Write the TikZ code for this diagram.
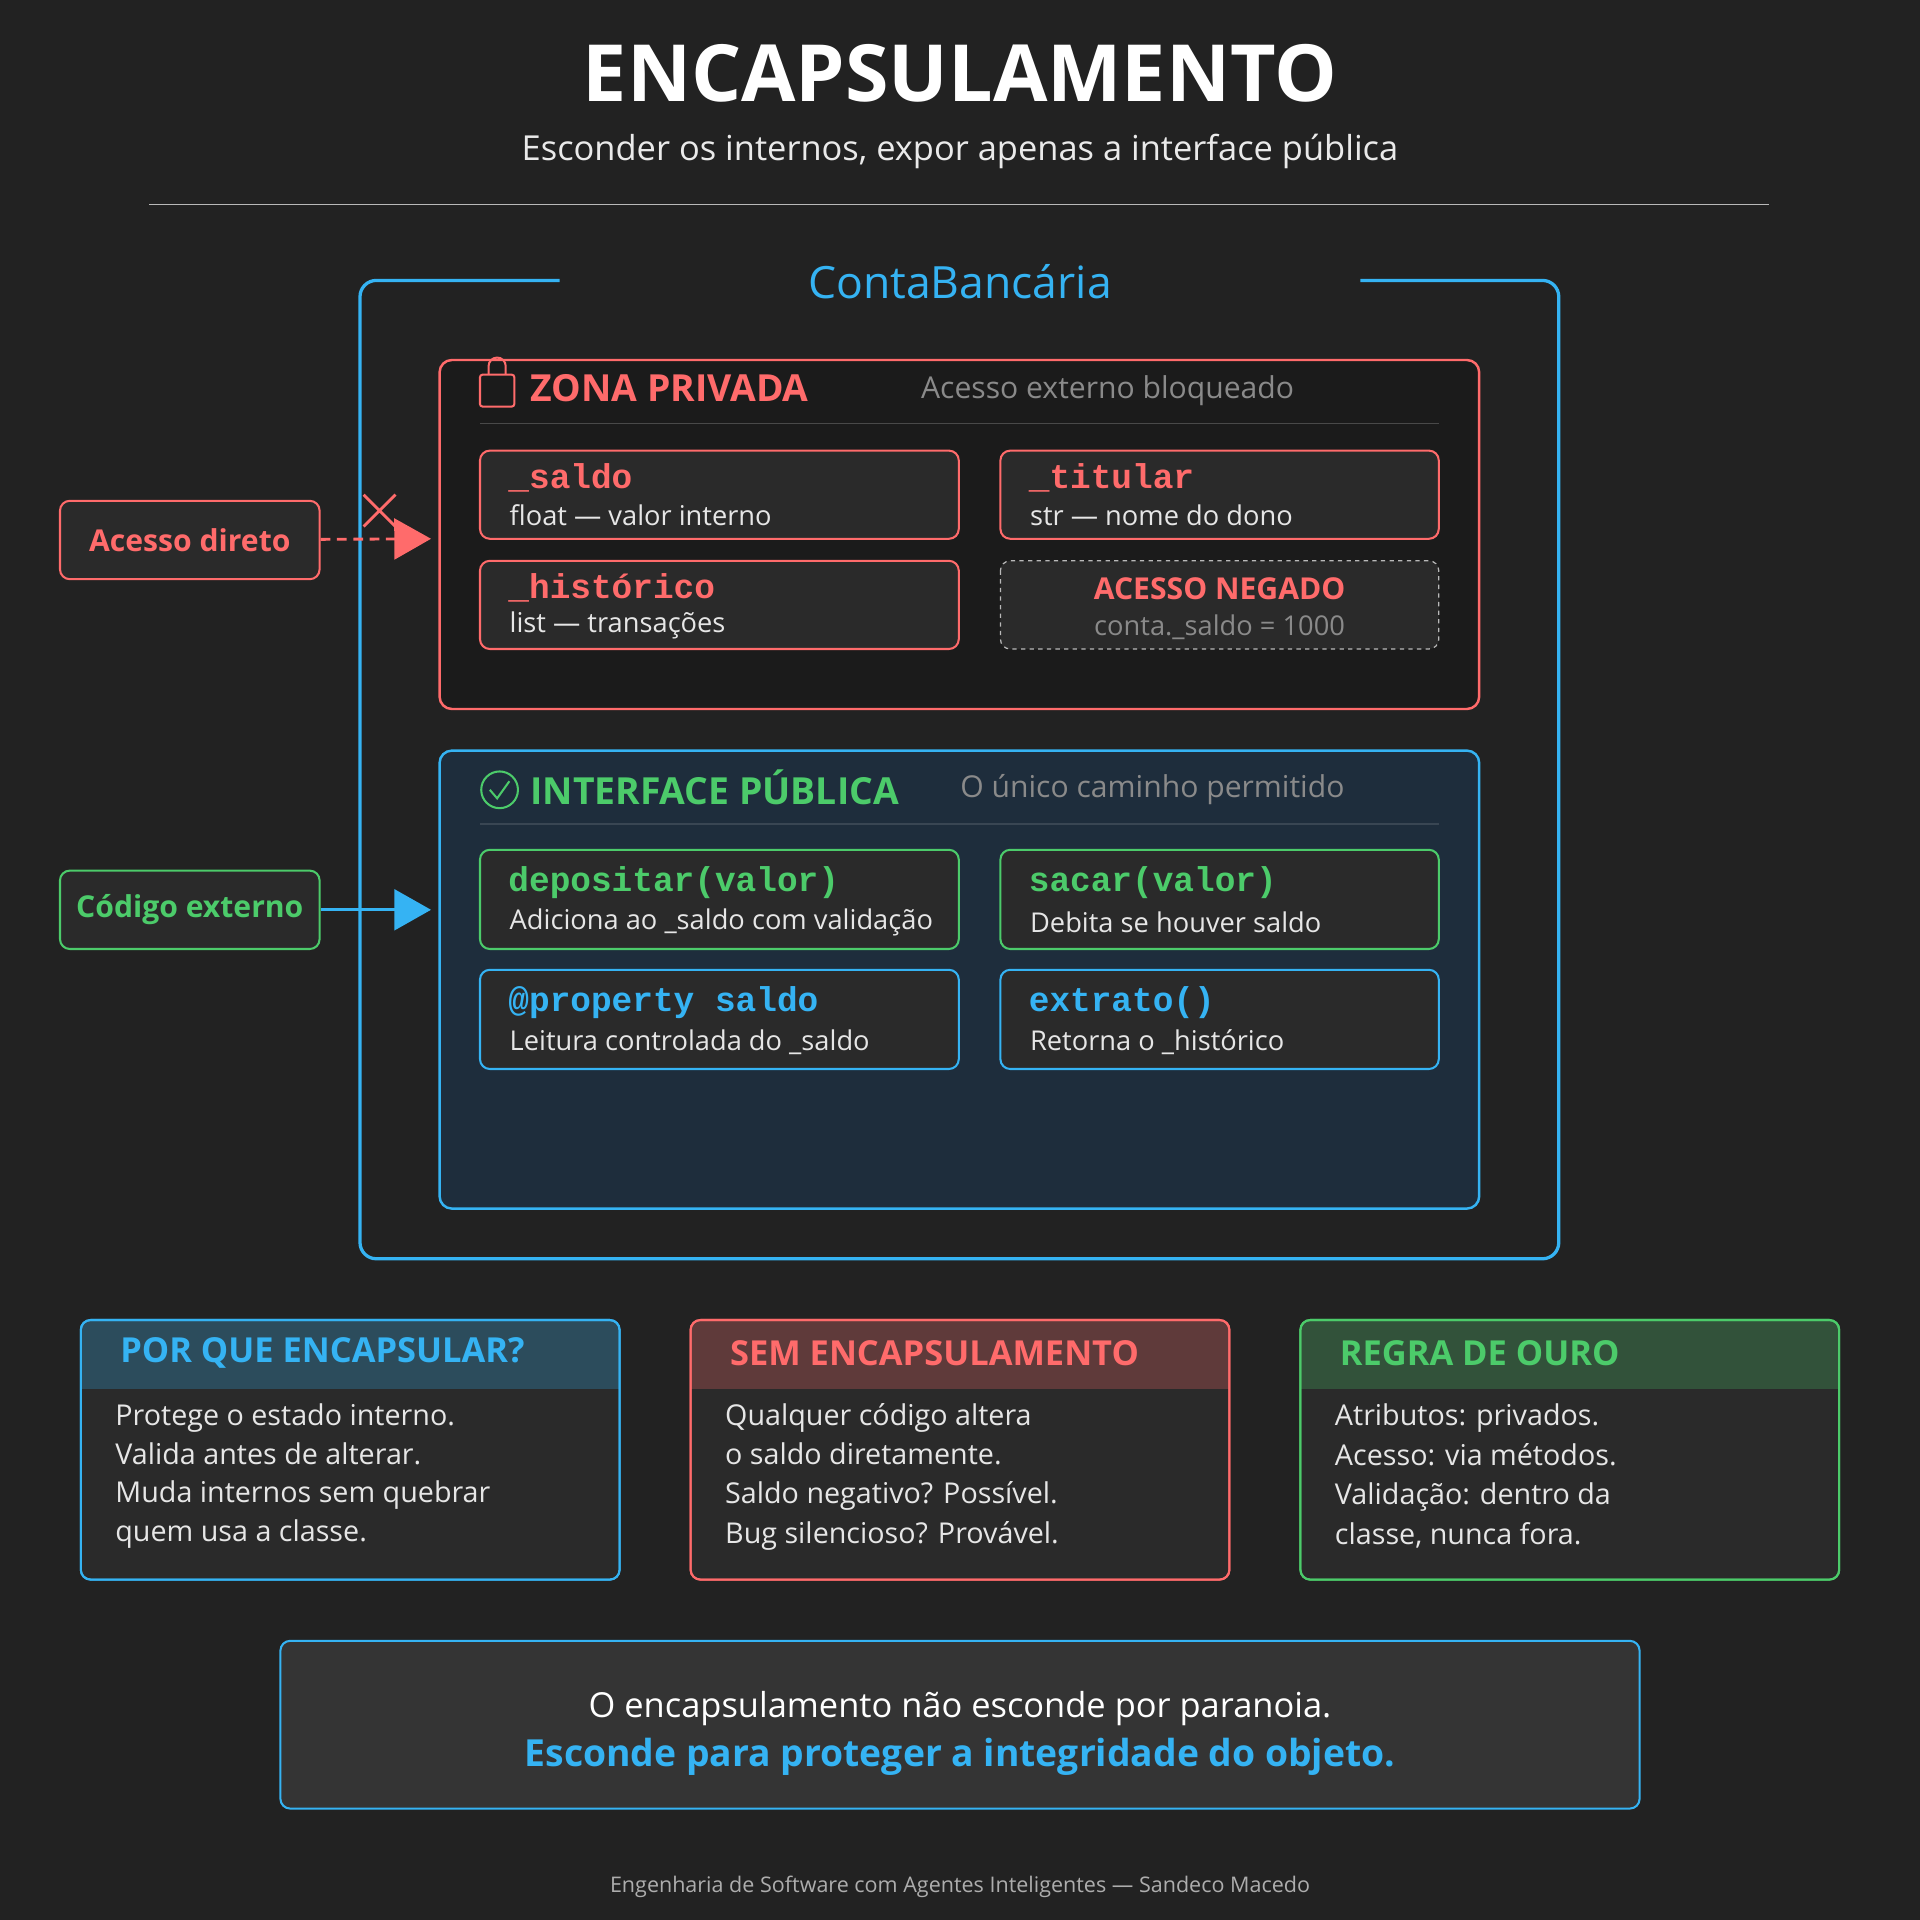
\documentclass[tikz,border=0pt]{standalone}
\usepackage{fontspec}
\setmainfont{Open Sans}
\newfontfamily\monofont{Liberation Mono}
\usetikzlibrary{arrows.meta}
\definecolor{bgcol}{HTML}{222222}
\definecolor{bluecol}{HTML}{35B3F3}
\definecolor{redcol}{HTML}{FF6B6B}
\definecolor{greencol}{HTML}{4CCB6A}
\definecolor{cardcol}{HTML}{2A2A2A}
\definecolor{privcol}{HTML}{1B1B1B}
\definecolor{pubcol}{HTML}{1E2D3C}
\definecolor{txtcol}{HTML}{E6E6E6}
\definecolor{dimcol}{HTML}{8A8A8A}
\newcommand\fsz[1]{\fontsize{#1pt}{#1pt}\selectfont}
\tikzset{
  card/.style={rounded corners=2.4mm, line width=0.5mm},
  lbl/.style={anchor=west, inner sep=0pt, text=txtcol},
  mono/.style={anchor=west, inner sep=0pt, font=\monofont\bfseries\fsz{24}},
}
\begin{document}
\begin{tikzpicture}[x=0.3mm, y=-0.3mm]
    \fill[bgcol] (0,0) rectangle (1568,1568);

    % title
    \node (title) at (784,60) {\color{white}\bfseries\fsz{55}ENCAPSULAMENTO};
    \node (subtitle) at (784,124) {\color{txtcol!85}\fsz{24}Esconder os internos, expor apenas a interface pública};
    \draw[dimcol!60, line width=0.3mm] (122,167) -- (1445,167);

    % class box
    \draw[bluecol, line width=0.8mm, rounded corners=4mm]
        (457,229) -- (294,229) -- (294,1028) -- (1273,1028) -- (1273,229) -- (1111,229);
    \node (cls) at (784,230) {\color{bluecol}\fsz{31}ContaBancária};

    % private zone
    \draw[redcol, fill=privcol, line width=0.6mm, rounded corners=3mm] (359,294) rectangle (1208,579);
    \draw[redcol, line width=0.5mm, rounded corners=0.6mm] (392,306) rectangle (420,332);
    \draw[redcol, line width=0.5mm] (399,306) -- (399,299) arc (180:360:7) -- (413,306);
    \node[lbl] (privhead) at (433,317) {\color{redcol}\bfseries\fsz{26}ZONA PRIVADA};
    \node[lbl] (privsub) at (752,319) {\color{dimcol}\fsz{21}Acesso externo bloqueado};
    \draw[white!20!privcol, line width=0.3mm] (392,346) -- (1175,346);
    \foreach \xa/\ya/\xb/\yb in {392/368/783/440, 817/368/1175/440, 392/458/783/530}
        \draw[card, redcol, fill=cardcol] (\xa,\ya) rectangle (\xb,\yb);
    \node[mono, text=redcol] (saldo) at (415,390) {\_saldo};
    \node[lbl, font=\fsz{19}] (saldod) at (416,421) {float — valor interno};
    \node[mono, text=redcol] (titular) at (840,390) {\_titular};
    \node[lbl, font=\fsz{19}] (titulard) at (841,421) {str — nome do dono};
    \node[mono, text=redcol] (hist) at (415,480) {\_histórico};
    \node[lbl, font=\fsz{19}] (histd) at (416,511) {list — transações};
    \draw[card, dashed, dimcol!60, fill=cardcol, line width=0.3mm] (817,458) rectangle (1175,530);
    \node (negado) at (996,481) {\color{redcol}\bfseries\fsz{21}ACESSO NEGADO};
    \node (negadod) at (996,512) {\color{dimcol}\fsz{19}conta.\_saldo = 1000};

    % public zone
    \draw[bluecol, fill=pubcol, line width=0.6mm, rounded corners=3mm] (359,613) rectangle (1208,987);
    \draw[greencol, line width=0.5mm] (408,645) circle (15);
    \draw[greencol, line width=0.5mm] (400,645) -- (406,652) -- (416,638);
    \node[lbl] (pubhead) at (433,643) {\color{greencol}\bfseries\fsz{26}INTERFACE PÚBLICA};
    \node[lbl] (pubsub) at (784,645) {\color{dimcol}\fsz{21}O único caminho permitido};
    \draw[white!12!pubcol, line width=0.3mm] (392,673) -- (1175,673);
    \foreach \xa/\ya/\xb/\yb/\c in {392/694/783/775/greencol, 817/694/1175/775/greencol,
                                   392/792/783/873/bluecol, 817/792/1175/873/bluecol}
        \draw[card, \c, fill=cardcol] (\xa,\ya) rectangle (\xb,\yb);
    \node[mono, text=greencol] (dep) at (415,721) {depositar(valor)};
    \node[lbl, font=\fsz{19}] (depd) at (416,753) {Adiciona ao \_saldo com validação};
    \node[mono, text=greencol] (sac) at (840,721) {sacar(valor)};
    \node[lbl, font=\fsz{19}] (sacd) at (841,753) {Debita se houver saldo};
    \node[mono, text=bluecol] (prop) at (415,819) {@property saldo};
    \node[lbl, font=\fsz{19}] (propd) at (416,851) {Leitura controlada do \_saldo};
    \node[mono, text=bluecol] (ext) at (840,819) {extrato()};
    \node[lbl, font=\fsz{19}] (extd) at (841,851) {Retorna o \_histórico};

    % outside callers
    \node[card, draw=redcol, fill=cardcol, minimum width=63.6mm, minimum height=19.2mm]
        (direto) at (155,441) {\color{redcol}\bfseries\fsz{21}Acesso direto};
    \node[card, draw=greencol, fill=cardcol, minimum width=63.6mm, minimum height=19.2mm]
        (externo) at (155,743) {\color{greencol}\bfseries\fsz{21}Código externo};
    \coordinate (privin) at (352,440);
    \coordinate (pubin) at (352,743);
    \draw[redcol, line width=0.7mm, dash pattern=on 2.4mm off 1.6mm, -{Triangle[length=9mm, width=10mm]}] (direto) -- (privin);
    \draw[redcol, line width=0.7mm] (297,404) -- (323,430) (323,404) -- (297,430);
    \draw[bluecol, line width=0.7mm, -{Triangle[length=9mm, width=10mm]}] (externo) -- (pubin);

    % bottom cards
    \foreach \x/\c/\t [count=\i] in {66/bluecol/POR QUE ENCAPSULAR?, 564/redcol/SEM ENCAPSULAMENTO, 1062/greencol/REGRA DE OURO} {
        \draw[card, \c, fill=cardcol] (\x,1078) rectangle (\x+440,1290);
        \begin{scope}
            \clip[rounded corners=2.4mm] (\x,1078) rectangle (\x+440,1290);
            \fill[\c, opacity=0.25] (\x,1078) rectangle (\x+440,1134);
        \end{scope}
        \draw[card, \c] (\x,1078) rectangle (\x+440,1290);
        \node[lbl, text=\c, font=\bfseries\fsz{24}] (head\i) at (\x+32,1105) {\t};
    }
    \node[lbl, align=left, font=\fsz{20}, anchor=north west] (why) at (94,1146)
        {Protege o estado interno.\\[7pt]Valida antes de alterar.\\[7pt]Muda internos sem quebrar\\[7pt]quem usa a classe.};
    \node[lbl, align=left, font=\fsz{20}, anchor=north west] (sem) at (592,1146)
        {Qualquer código altera\\[7pt]o saldo diretamente.\\[7pt]Saldo negativo? Possível.\\[7pt]Bug silencioso? Provável.};
    \node[lbl, align=left, font=\fsz{20}, anchor=north west] (regra) at (1090,1146)
        {Atributos: privados.\\[7pt]Acesso: via métodos.\\[7pt]Validação: dentro da\\[7pt]classe, nunca fora.};

    % conclusion
    \draw[card, bluecol, fill=white!8!bgcol] (229,1340) rectangle (1339,1477);
    \node (concl1) at (784,1395) {\color{white}\fsz{24}O encapsulamento não esconde por paranoia.};
    \node (concl2) at (784,1435) {\color{bluecol}\bfseries\fsz{26}Esconde para proteger a integridade do objeto.};

    % footer
    \node (footer) at (784,1541) {\color{dimcol!70}\fsz{15}Engenharia de Software com Agentes Inteligentes — Sandeco Macedo};
\end{tikzpicture}
\end{document}
